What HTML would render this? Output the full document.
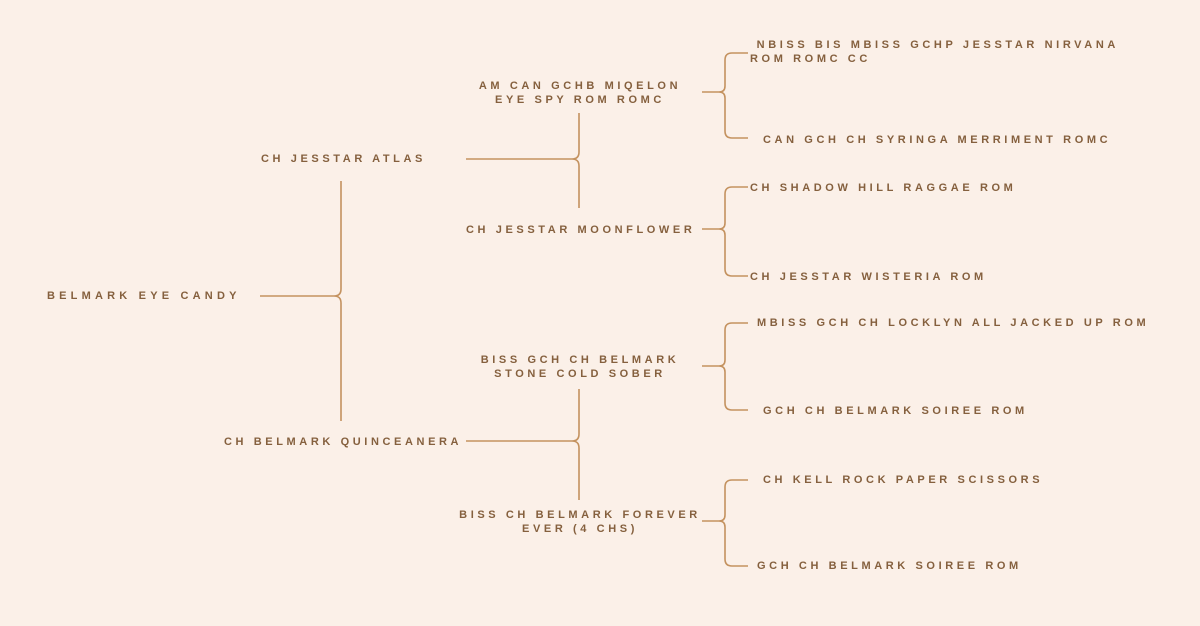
<!DOCTYPE html>
<html><head><style>
body{margin:0;width:1200px;height:626px;background:#fbf0e8;position:relative;overflow:hidden;font-family:"Liberation Sans",sans-serif}
.t{position:absolute;font-size:11px;font-weight:bold;letter-spacing:3.6px;color:#85603e;line-height:14px;white-space:nowrap}
.c{text-align:center;transform:translateX(-50%)}
svg{position:absolute;left:0;top:0}
</style></head><body>
<svg width="1200" height="626" fill="none" stroke="#c4925f" stroke-width="1.6">
<path d="M260 296H334Q341 296 341 289V181M334 296Q341 296 341 303V421"/>
<path d="M466 159H572Q579 159 579 152V113M572 159Q579 159 579 166V208"/>
<path d="M466 441H572Q579 441 579 434V389M572 441Q579 441 579 448V500"/>
<path d="M702 92H719Q725 92 725 86V60Q725 53 732 53H748M719 92Q725 92 725 98V131Q725 138 732 138H748"/>
<path d="M702 229H719Q725 229 725 223V194Q725 187 732 187H748M719 229Q725 229 725 235V269Q725 276 732 276H748"/>
<path d="M702 366H719Q725 366 725 360V330Q725 323 732 323H748M719 366Q725 366 725 372V403Q725 410 732 410H748"/>
<path d="M702 521H719Q725 521 725 515V487Q725 480 732 480H748M719 521Q725 521 725 527V559Q725 566 732 566H748"/>
</svg>
<div class="t" style="left:47px;top:289px;letter-spacing:4.2px">BELMARK EYE CANDY</div>
<div class="t" style="left:261px;top:152px">CH JESSTAR ATLAS</div>
<div class="t" style="left:224px;top:435px">CH BELMARK QUINCEANERA</div>
<div class="t c" style="left:580px;top:79px">AM CAN GCHB MIQELON<br>EYE SPY ROM ROMC</div>
<div class="t" style="left:466px;top:223px">CH JESSTAR MOONFLOWER</div>
<div class="t c" style="left:580px;top:353px">BISS GCH CH BELMARK<br>STONE COLD SOBER</div>
<div class="t c" style="left:580px;top:508px">BISS CH BELMARK FOREVER<br>EVER (4 CHS)</div>
<div class="t" style="left:750px;top:38px">&nbsp;NBISS BIS MBISS GCHP JESSTAR NIRVANA<br>ROM ROMC CC</div>
<div class="t" style="left:763px;top:133px">CAN GCH CH SYRINGA MERRIMENT ROMC</div>
<div class="t" style="left:750px;top:181px">CH SHADOW HILL RAGGAE ROM</div>
<div class="t" style="left:750px;top:270px">CH JESSTAR WISTERIA ROM</div>
<div class="t" style="left:757px;top:316px">MBISS GCH CH LOCKLYN ALL JACKED UP ROM</div>
<div class="t" style="left:763px;top:404px">GCH CH BELMARK SOIREE ROM</div>
<div class="t" style="left:763px;top:473px">CH KELL ROCK PAPER SCISSORS</div>
<div class="t" style="left:757px;top:559px">GCH CH BELMARK SOIREE ROM</div>
</body></html>
